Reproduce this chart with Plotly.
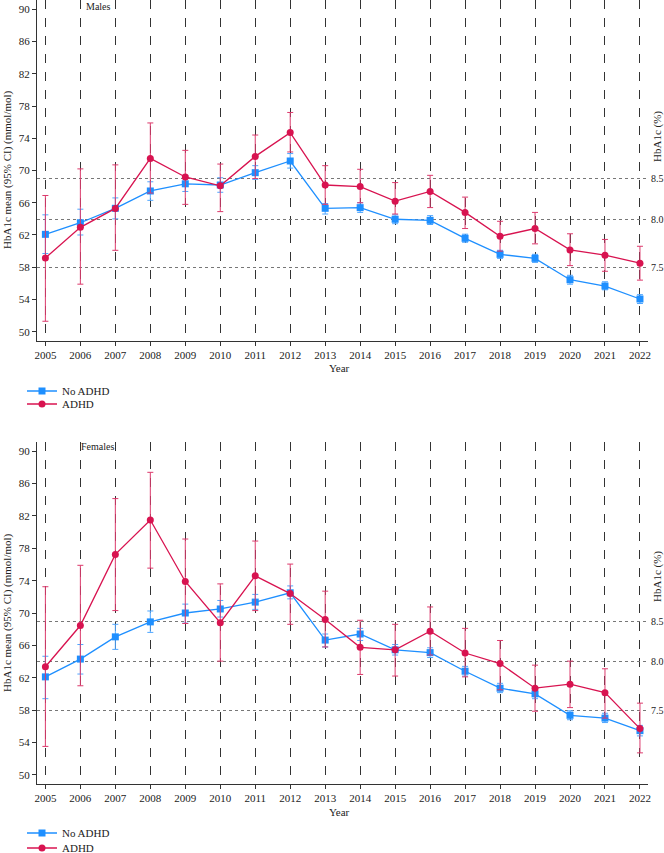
import numpy as np
import plotly.graph_objects as go

years = list(range(2005, 2023))

# Males
male_no_mean = [62.08, 63.52, 65.31, 67.46, 68.35, 68.2, 69.73, 71.18, 65.31, 65.39, 63.95, 63.82, 61.59, 59.6, 59.1, 56.45, 55.67, 54.06]
male_no_lo = [59.7, 62.0, 64.0, 66.3, 67.4, 67.3, 68.9, 70.3, 64.6, 64.8, 63.4, 63.3, 61.1, 59.1, 58.6, 55.9, 55.2, 53.5]
male_no_hi = [64.5, 65.2, 66.6, 68.6, 69.4, 69.1, 70.6, 72.1, 65.9, 66.0, 64.5, 64.4, 62.1, 60.1, 59.6, 57.0, 56.2, 54.6]

male_adhd_mean = [59.15, 62.95, 65.3, 71.5, 69.2, 68.1, 71.75, 74.7, 68.2, 68.0, 66.2, 67.4, 64.8, 61.85, 62.8, 60.15, 59.5, 58.5]
male_adhd_lo = [51.3, 55.9, 60.1, 67.2, 65.8, 64.9, 69.0, 72.3, 65.8, 66.0, 64.6, 65.4, 62.8, 60.0, 60.9, 58.2, 57.5, 56.4]
male_adhd_hi = [66.9, 70.2, 70.7, 75.9, 72.5, 70.8, 74.4, 77.2, 70.6, 70.15, 68.5, 69.4, 66.7, 63.7, 64.8, 62.15, 61.45, 60.6]

# Females
fem_no_mean = [62.1, 64.3, 67.05, 68.9, 70.0, 70.5, 71.35, 72.5, 66.65, 67.4, 65.45, 65.1, 62.8, 60.7, 60.0, 57.35, 57.0, 55.45]
fem_no_lo = [59.4, 62.45, 65.5, 67.6, 68.75, 69.5, 70.45, 71.75, 65.8, 66.6, 64.8, 64.5, 62.2, 60.15, 59.4, 56.8, 56.45, 54.8]
fem_no_hi = [64.65, 66.1, 68.6, 70.25, 71.1, 71.55, 72.3, 73.35, 67.4, 68.1, 66.1, 65.7, 63.4, 61.3, 60.6, 57.9, 57.6, 56.1]

fem_adhd_mean = [63.35, 68.45, 77.25, 81.5, 73.9, 68.8, 74.6, 72.4, 69.2, 65.75, 65.45, 67.75, 65.05, 63.75, 60.7, 61.2, 60.15, 55.7]
fem_adhd_lo = [53.5, 61.0, 70.3, 75.55, 68.7, 64.05, 70.3, 68.6, 65.8, 62.4, 62.2, 64.8, 62.1, 60.5, 57.85, 58.3, 57.0, 52.7]
fem_adhd_hi = [73.25, 75.9, 84.15, 87.4, 79.15, 73.6, 78.9, 76.05, 72.7, 69.1, 68.6, 70.75, 68.1, 66.6, 63.55, 64.05, 63.1, 58.85]

# Right axis (HbA1c %) reference lines in mmol/mol
pct_pos = [68.95, 63.95, 57.95]
pct_labels = ["8.5", "8.0", "7.5"]

BLUE = "#1E8FFF"
BLUE_E = "#4FA6FF"
RED = "#D81350"
RED_E = "#DC3A6C"
FONT = "Liberation Serif"
TXT = "#222222"

W, H = 664, 853
ML, MR = 37, 16
PW = W - ML - MR

def px_x(p):
    return (p - ML) / PW

def px_y(p):
    return (H - p) / H

fig = go.Figure()

def add(mean, lo, hi, name, color, ecolor, symbol, xa, ya, legend):
    m = np.array(mean)
    l = np.array(lo)
    h = np.array(hi)
    fig.add_trace(go.Scatter(
        x=years, y=m, mode="lines+markers", name=name,
        line=dict(color=color, width=1.3),
        marker=dict(symbol=symbol, size=7, color=color),
        error_y=dict(type="data", symmetric=False, array=h - m, arrayminus=m - l,
                     color=ecolor, thickness=1, width=3),
        xaxis=xa, yaxis=ya, legend=legend, showlegend=True))

add(male_no_mean, male_no_lo, male_no_hi, "No ADHD", BLUE, BLUE_E, "square", "x", "y", "legend")
add(male_adhd_mean, male_adhd_lo, male_adhd_hi, "ADHD", RED, RED_E, "circle", "x", "y", "legend2")
add(fem_no_mean, fem_no_lo, fem_no_hi, "No ADHD", BLUE, BLUE_E, "square", "x2", "y3", "legend3")
add(fem_adhd_mean, fem_adhd_lo, fem_adhd_hi, "ADHD", RED, RED_E, "circle", "x2", "y3", "legend4")

yr = [48.85, 91.15]
xr = [2004.76, 2022.23]
top_dom = [px_y(341), 1.0]
bot_dom = [px_y(784), px_y(442)]

xcommon = dict(range=xr, tickmode="array", tickvals=years, ticktext=[str(y) for y in years],
               showgrid=True, gridcolor="#333333", griddash="dash", gridwidth=1.2,
               showline=True, linecolor="#333333", linewidth=1.2,
               ticks="outside", ticklen=4, tickcolor="#333333",
               tickfont=dict(family=FONT, size=11, color=TXT), zeroline=False,
               automargin=False, domain=[0, 1])
ycommon = dict(range=yr, tickmode="array", tickvals=[50, 54, 58, 62, 66, 70, 74, 78, 82, 86, 90],
               showgrid=False, showline=True, linecolor="#333333", linewidth=1.2,
               ticks="outside", ticklen=4, tickcolor="#333333",
               tickfont=dict(family=FONT, size=11, color=TXT), zeroline=False, automargin=False)
yright = dict(range=yr, tickmode="array", tickvals=pct_pos, ticktext=pct_labels, side="right",
              showgrid=True, gridcolor="#777777", griddash="dot", gridwidth=1,
              showline=False, ticks="", ticklabelstandoff=2,
              tickfont=dict(family=FONT, size=10, color=TXT), zeroline=False, automargin=False)

def leg(ypx):
    return dict(x=px_x(22), y=px_y(ypx), xanchor="left", yanchor="middle",
                bgcolor="rgba(0,0,0,0)", borderwidth=0,
                font=dict(family=FONT, size=11, color=TXT))

fig.update_layout(
    width=W, height=H, template="none",
    paper_bgcolor="white", plot_bgcolor="white",
    margin=dict(l=ML, r=MR, t=0, b=0, autoexpand=False),
    font=dict(family=FONT, size=11, color=TXT),
    xaxis=dict(anchor="y", **xcommon),
    yaxis=dict(anchor="x", domain=top_dom, **ycommon),
    yaxis2=dict(overlaying="y", anchor="x", **yright),
    xaxis2=dict(anchor="y3", **xcommon),
    yaxis3=dict(anchor="x2", domain=bot_dom, **ycommon),
    yaxis4=dict(overlaying="y3", anchor="x2", **yright),
    legend=leg(391),
    legend2=leg(404),
    legend3=leg(833),
    legend4=leg(848),
)

# dummy traces to activate right axes
fig.add_trace(go.Scatter(x=[None], y=[None], xaxis="x", yaxis="y2", showlegend=False, hoverinfo="skip"))
fig.add_trace(go.Scatter(x=[None], y=[None], xaxis="x2", yaxis="y4", showlegend=False, hoverinfo="skip"))

ann = []
def text(s, x, y, angle=0, size=11):
    ann.append(dict(text=s, x=px_x(x), y=px_y(y), xref="paper", yref="paper",
                    showarrow=False, textangle=angle, xanchor="center", yanchor="middle",
                    font=dict(family=FONT, size=size, color=TXT)))

text("Males", 98, 7, size=10)
text("Females", 97, 446, size=10)
text("HbA1c mean (95% CI) (mmol/mol)", 7, 170, angle=-90)
text("HbA1c mean (95% CI) (mmol/mol)", 7, 613, angle=-90)
text("HbA1c (%)", 657, 137, angle=-90)
text("HbA1c (%)", 657, 577, angle=-90)
text("Year", 339, 368)
text("Year", 339, 812)
fig.update_layout(annotations=ann)

fig.write_html("out.html")
